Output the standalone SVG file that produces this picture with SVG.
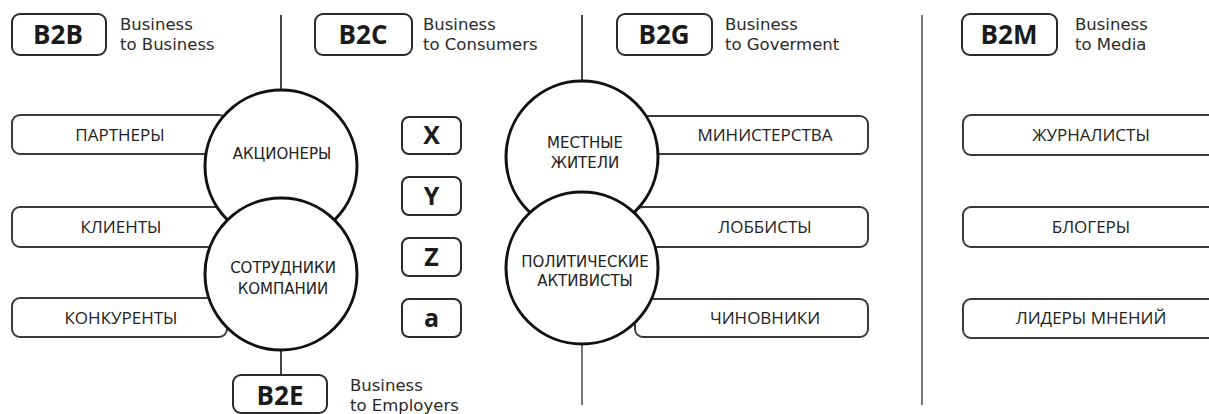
<svg xmlns="http://www.w3.org/2000/svg" width="1209" height="414" viewBox="0 0 1209 414">
<style>
.bg{fill:#ffffff}
.tag{fill:#fff;stroke:#2a2a2a;stroke-width:2}
.tagt{font-family:"Open Sans","Liberation Sans",sans-serif;font-weight:700;font-size:26px;fill:#1a1a1a;text-anchor:middle}
.xyz{font-family:"Open Sans","Liberation Sans",sans-serif;font-weight:700;font-size:25px;fill:#1a1a1a;text-anchor:middle}
.sub{font-family:"DejaVu Sans","Open Sans",sans-serif;font-size:16.5px;fill:#2a2a2a}
.box{fill:#fff;stroke:#3a3a3a;stroke-width:2}
.boxt{font-family:"Open Sans","Liberation Sans",sans-serif;font-size:17px;font-weight:500;fill:#222;text-anchor:middle}
.circ{fill:#fff;stroke:#111;stroke-width:3}
.circt{font-family:"DejaVu Sans","Open Sans",sans-serif;font-size:15px;fill:#222;text-anchor:middle}
.line{stroke:#444;stroke-width:2;fill:none}
.gline{stroke:#777;stroke-width:2;fill:none}
</style>
<rect class="bg" x="0" y="0" width="1209" height="414"/>

<g id="connectors">
  <line class="line" x1="281" y1="15" x2="281" y2="90"/>
  <line class="line" x1="582" y1="15" x2="582" y2="82"/>
  <line class="line" x1="281" y1="349" x2="281" y2="375"/>
  <line class="gline" x1="582" y1="343" x2="582" y2="405"/>
  <line class="gline" x1="922" y1="15" x2="922" y2="405"/>
</g>

<g id="b2b">
  <rect class="tag" x="12" y="14" width="94" height="41" rx="8"/>
  <text class="tagt" x="58" y="44">B2B</text>
  <text class="sub" x="120" y="30">Business<tspan x="120" dy="19.5">to Business</tspan></text>
</g>
<g id="b2c">
  <rect class="tag" x="315" y="14" width="97" height="41" rx="8"/>
  <text class="tagt" x="363" y="44">B2C</text>
  <text class="sub" x="423" y="30">Business<tspan x="423" dy="19.5">to Consumers</tspan></text>
</g>
<g id="b2g">
  <rect class="tag" x="617" y="14" width="95" height="41" rx="8"/>
  <text class="tagt" x="664" y="44">B2G</text>
  <text class="sub" x="725" y="30">Business<tspan x="725" dy="19.5">to Goverment</tspan></text>
</g>
<g id="b2m">
  <rect class="tag" x="962" y="14" width="95" height="41" rx="8"/>
  <text class="tagt" x="1009" y="44">B2M</text>
  <text class="sub" x="1075" y="30">Business<tspan x="1075" dy="19.5">to Media</tspan></text>
</g>
<g id="b2e">
  <rect class="tag" x="233" y="375" width="94" height="38" rx="8"/>
  <text class="tagt" x="280" y="405">B2E</text>
  <text class="sub" x="350" y="391">Business<tspan x="350" dy="19.5">to Employers</tspan></text>
</g>

<g id="partnery">
  <rect class="box" x="12" y="115" width="215" height="39" rx="8"/>
  <text class="boxt" x="120" y="141">ПАРТНЕРЫ</text>
</g>
<g id="klienty">
  <rect class="box" x="12" y="207" width="215" height="40" rx="8"/>
  <text class="boxt" x="121" y="233">КЛИЕНТЫ</text>
</g>
<g id="konkurenty">
  <rect class="box" x="12" y="298" width="215" height="39" rx="8"/>
  <text class="boxt" x="121" y="324">КОНКУРЕНТЫ</text>
</g>

<g id="akcionery">
  <circle class="circ" cx="281" cy="166" r="76"/>
  <text class="circt" x="282" y="159">АКЦИОНЕРЫ</text>
</g>
<g id="sotrudniki">
  <circle class="circ" cx="281" cy="274" r="76"/>
  <text class="circt" x="283" y="273">СОТРУДНИКИ</text>
  <text class="circt" x="283" y="294">КОМПАНИИ</text>
</g>

<g id="x">
  <rect class="tag" x="402" y="117" width="59" height="37" rx="7"/>
  <text class="xyz" x="431.5" y="144">X</text>
</g>
<g id="y">
  <rect class="tag" x="402" y="177" width="59" height="38" rx="7"/>
  <text class="xyz" x="431.5" y="205">Y</text>
</g>
<g id="z">
  <rect class="tag" x="402" y="238" width="59" height="38" rx="7"/>
  <text class="xyz" x="431.5" y="266">Z</text>
</g>
<g id="a">
  <rect class="tag" x="402" y="299" width="59" height="38" rx="7"/>
  <text class="xyz" x="431.5" y="327">a</text>
</g>

<g id="ministerstva">
  <rect class="box" x="635" y="116" width="233" height="38" rx="8"/>
  <text class="boxt" x="765" y="141">МИНИСТЕРСТВА</text>
</g>
<g id="lobbisty">
  <rect class="box" x="635" y="207" width="233" height="40" rx="8"/>
  <text class="boxt" x="765" y="233">ЛОББИСТЫ</text>
</g>
<g id="chinovniki">
  <rect class="box" x="635" y="299" width="233" height="38" rx="8"/>
  <text class="boxt" x="765" y="324">ЧИНОВНИКИ</text>
</g>

<g id="mestnye">
  <circle class="circ" cx="582" cy="157" r="76"/>
  <text class="circt" x="585" y="148">МЕСТНЫЕ</text>
  <text class="circt" x="585" y="168">ЖИТЕЛИ</text>
</g>
<g id="politicheskie">
  <circle class="circ" cx="582" cy="268" r="76"/>
  <text class="circt" x="585" y="267">ПОЛИТИЧЕСКИЕ</text>
  <text class="circt" x="585" y="285.5">АКТИВИСТЫ</text>
</g>

<g id="zhurnalisty">
  <rect class="box" x="963" y="115" width="260" height="40" rx="8"/>
  <text class="boxt" x="1091" y="141">ЖУРНАЛИСТЫ</text>
</g>
<g id="blogery">
  <rect class="box" x="963" y="207" width="260" height="40" rx="8"/>
  <text class="boxt" x="1091" y="233">БЛОГЕРЫ</text>
</g>
<g id="lidery">
  <rect class="box" x="963" y="299" width="260" height="39" rx="8"/>
  <text class="boxt" x="1091" y="324">ЛИДЕРЫ МНЕНИЙ</text>
</g>
</svg>
